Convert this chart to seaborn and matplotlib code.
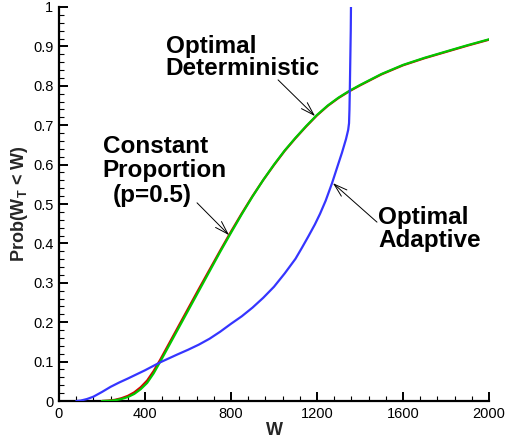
import matplotlib
matplotlib.use('Agg')
import matplotlib.pyplot as plt
import seaborn as sns
from matplotlib.ticker import MultipleLocator

# values
w_green = [200, 230, 260, 290, 320, 350, 380, 410, 440, 470, 500, 550, 600, 650, 700, 750, 800, 850, 900,
           950, 1000, 1050, 1100, 1150, 1200, 1250, 1300, 1350, 1400, 1500, 1600, 1700, 1800, 1900, 2000]
p_green = [0.0, 0.0005, 0.002, 0.005, 0.010, 0.018, 0.030, 0.046, 0.070, 0.099, 0.129, 0.179, 0.229,
           0.279, 0.329, 0.379, 0.427, 0.474, 0.519, 0.561, 0.600, 0.636, 0.668, 0.698, 0.726, 0.750,
           0.770, 0.787, 0.802, 0.830, 0.853, 0.871, 0.887, 0.903, 0.918]

w_red = [200, 230, 260, 290, 320, 350, 380, 410, 440, 470, 500, 550, 600, 650, 700, 750, 800, 850, 900,
         950, 1000, 1050, 1100, 1150, 1200, 1250, 1300, 1350, 1400, 1500, 1600, 1700, 1800, 1900, 2000]
p_red = [0.0, 0.001, 0.003, 0.007, 0.013, 0.022, 0.035, 0.052, 0.076, 0.104, 0.134, 0.184, 0.234,
         0.284, 0.333, 0.382, 0.430, 0.476, 0.520, 0.561, 0.599, 0.635, 0.667, 0.697, 0.725, 0.749,
         0.769, 0.786, 0.801, 0.829, 0.852, 0.870, 0.886, 0.902, 0.917]

w_blue = [80, 100, 130, 160, 200, 240, 280, 320, 400, 470, 550, 600, 650, 700, 750, 800, 850, 900, 950,
          1000, 1050, 1100, 1130, 1160, 1190, 1214, 1240, 1270, 1295, 1316, 1335, 1345, 1349, 1351, 1353,
          1355, 1357, 1358]
p_blue = [0.0, 0.001, 0.005, 0.011, 0.023, 0.036, 0.047, 0.057, 0.078, 0.098, 0.118, 0.130, 0.143,
          0.158, 0.176, 0.196, 0.215, 0.237, 0.262, 0.290, 0.324, 0.361, 0.389, 0.418, 0.448, 0.475,
          0.508, 0.553, 0.595, 0.630, 0.665, 0.688, 0.705, 0.740, 0.800, 0.870, 0.940, 1.0]

y_ticks = [0, 0.1, 0.2, 0.3, 0.4, 0.5, 0.6, 0.7, 0.8, 0.9, 1]
y_tick_labels = ['0', '0.1', '0.2', '0.3', '0.4', '0.5', '0.6', '0.7', '0.8', '0.9', '1']
x_ticks = [0, 400, 800, 1200, 1600, 2000]

sns.set_theme(style='ticks')
plt.rcParams['font.family'] = ['Liberation Sans', 'DejaVu Sans']
plt.rcParams['mathtext.fontset'] = 'custom'
plt.rcParams['mathtext.rm'] = 'Liberation Sans:bold'
plt.rcParams['mathtext.it'] = 'Liberation Sans:bold'
plt.rcParams['mathtext.bf'] = 'Liberation Sans:bold'

fig = plt.figure(figsize=(5.06, 4.40), dpi=100)
ax = fig.add_axes([0.1166, 0.0886, 0.8498, 0.8955])

sns.lineplot(x=w_red, y=p_red, ax=ax, color='#d40000', lw=1.6, zorder=3)
sns.lineplot(x=w_green, y=p_green, ax=ax, color='#00c800', lw=1.6, zorder=4)
sns.lineplot(x=w_blue, y=p_blue, ax=ax, color='#3535ff', lw=1.6, zorder=5)

ax.set_xlim(0, 2000)
ax.set_ylim(0, 1)
ax.set_xticks(x_ticks)
ax.set_xticklabels([str(t) for t in x_ticks])
ax.set_yticks(y_ticks)
ax.set_yticklabels(y_tick_labels)
ax.xaxis.set_minor_locator(MultipleLocator(80))
ax.yaxis.set_minor_locator(MultipleLocator(0.02))

sns.despine(ax=ax)
for s in ['left', 'bottom']:
    ax.spines[s].set_linewidth(1.6)
    ax.spines[s].set_color('black')
ax.tick_params(which='major', direction='in', length=6.5, width=1.4, colors='black',
               labelsize=10.5, pad=4)
ax.tick_params(which='minor', direction='in', length=3.5, width=0.8, colors='black')
ax.grid(False)

ax.set_xlabel('W', fontsize=13, fontweight='bold')
ax.set_ylabel(r'Prob(W$_T$ < W)', fontsize=13, fontweight='bold')
ax.xaxis.set_label_coords(0.5, -0.052)
ax.yaxis.set_label_coords(-0.068, 0.5)

# labels with arrows
tkw = dict(fontsize=17.5, fontweight='bold', ha='left', va='baseline', color='black')
ax.text(496, 0.883, 'Optimal', **tkw)
ax.text(496, 0.827, 'Deterministic', **tkw)
ax.text(203, 0.629, 'Constant', **tkw)
ax.text(203, 0.569, 'Proportion', **tkw)
ax.text(249, 0.505, '(p=0.5)', **tkw)
ax.text(1486, 0.449, 'Optimal', **tkw)
ax.text(1486, 0.391, 'Adaptive', **tkw)

akw = dict(arrowstyle='->,head_length=0.8,head_width=0.25', color='black', lw=0.7,
           shrinkA=0, shrinkB=0)
ax.annotate('', xy=(1191, 0.723), xytext=(1019, 0.815), arrowprops=akw)
ax.annotate('', xy=(791, 0.421), xytext=(642, 0.503), arrowprops=akw)
ax.annotate('', xy=(1274, 0.553), xytext=(1479, 0.454), arrowprops=akw)

fig.savefig('out.png', dpi=100)
